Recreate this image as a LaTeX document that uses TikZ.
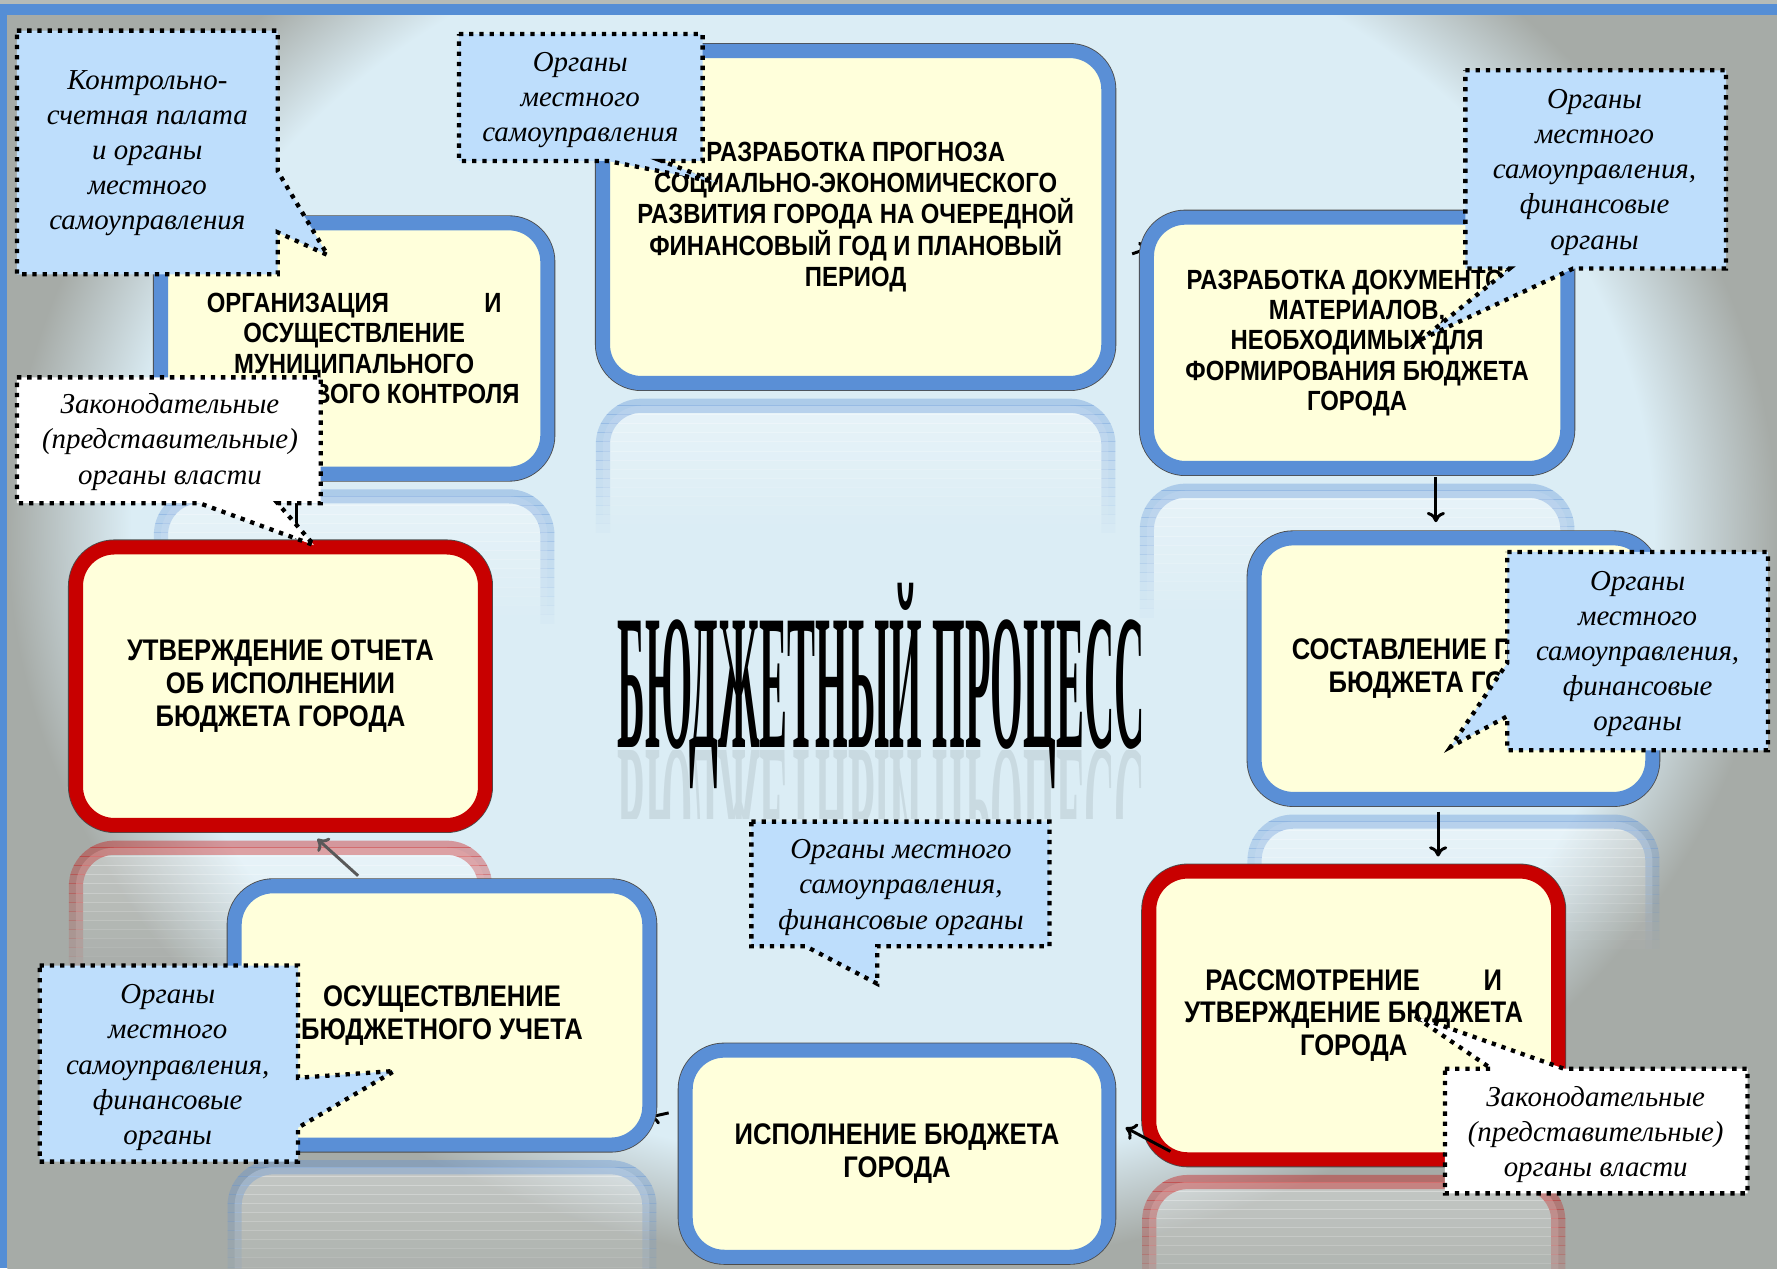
\documentclass[tikz,border=0pt]{standalone}
\usepackage{fontspec}
\usepackage{graphicx}
\usepackage{tikz}
\usetikzlibrary{positioning, arrows, arrows.meta}
\newfontfamily\stagefont[FakeStretch=0.86]{Liberation Sans}
\newfontfamily\notefont{Liberation Serif}
\newfontfamily\titlefont{Liberation Serif}

\definecolor{bgin}{HTML}{DBEDF5}
\definecolor{bgout}{HTML}{A6ABA7}
\definecolor{framegray}{HTML}{B5BBB7}
\definecolor{frameblue}{HTML}{558ED5}
\definecolor{stagefill}{HTML}{FFFFDB}
\definecolor{stageblue}{HTML}{5A8FD6}
\definecolor{stagered}{HTML}{C80000}
\definecolor{noteblue}{HTML}{BEDEFC}

\pgfdeclareradialshading{backdrop}{\pgfpoint{0bp}{0bp}}{color(0bp)=(bgin); color(21.5bp)=(bgin); color(25bp)=(bgout); color(40bp)=(bgout)}

\begin{document}
\begin{tikzpicture}[x=1pt, y=-1pt,
  stage/.style={draw=#1, line width=12.5pt, fill=stagefill, rounded corners=34pt,
    preaction={draw=black!70, line width=14pt}, inner sep=0pt, align=center,
    font=\stagefont\bfseries\fontsize{26.3}{29}\selectfont},
  narrow/.style={font=\stagefont\bfseries\fontsize{24.5}{26.75}\selectfont},
  wh/.style 2 args={minimum width=#1-14, minimum height=#2-14},
  glass/.style={draw=#1, line width=12.5pt, fill=white, rounded corners=34pt},
  note/.style={fill=#1, draw=black, line width=3.8pt, dash pattern=on 3.8pt off 5.2pt},
  notetext/.style={align=center, inner sep=0pt, font=\notefont\itshape\fontsize{25.5}{31}\selectfont},
  link/.style={-{To[length=9pt,width=16pt]}, line width=2.6pt, black},
]
\useasboundingbox (0,0) rectangle (1568,1119);
\clip (0,0) rectangle (1568,1119);

% Slide background and frame
\shade[shading=backdrop] (6.5,-180) rectangle (1568,1119);
\fill[framegray] (0,0) rectangle (1568,3.5);
\fill[frameblue] (0,3.5) rectangle (1568,13);
\fill[frameblue] (0,3.5) rectangle (6.5,1119);

% Reflections under the stages, fading out downwards
\foreach \rim/\xa/\ya/\xb/\yb in {stageblue/532/358/978/645, stageblue/1012/433/1383/648,
    stageblue/1107/725/1458/950, stagered/1014/1043/1375/1292, stageblue/207/1030/573/1259,
    stagered/67/748/428/994, stageblue/142/438/483/653}{
  \foreach \k [evaluate=\k as \op using 0.36-0.024*\k] in {0,...,14}{
    \begin{scope}
      \clip (\xa-12,\ya-8+8*\k) rectangle (\xb+12,\ya+8*\k);
      \path[glass=\rim, opacity=\op] (\xa,\ya) rectangle (\xb,\yb);
    \end{scope}
  }
}

% Title and its reflection
\node[inner sep=0pt, anchor=base] (title) at (777.5,660)
  {\resizebox{465pt}{145pt}{\titlefont\bfseries БЮДЖЕТНЫЙ ПРОЦЕСС}};
\begin{scope}
  \clip (540,662) rectangle (1015,722);
  \node[inner sep=0pt, anchor=base, opacity=0.08] (titleglass) at (777.5,662)
    {\scalebox{1}[-1]{\resizebox{465pt}{145pt}{\titlefont\bfseries БЮДЖЕТНЫЙ ПРОЦЕСС}}};
\end{scope}

% hidden ends of connectors (under the stages)
\coordinate (abtail) at (999,224);
\coordinate (abhead) at (1015,218.5);
\draw[link] (abtail) -- (abhead);
\coordinate (eftail) at (590,982);
\coordinate (efhead) at (572,986);
\draw[link] (eftail) -- (efhead);
\coordinate (ghtail) at (262,476);
\coordinate (ghhead) at (262,425);
\draw[link] (ghtail) -- (ghhead);

% Stages of the cycle
\node[stage=stageblue, wh={460}{307}, narrow] (forecast) at (755,191.5)
  {РАЗРАБОТКА ПРОГНОЗА\\СОЦИАЛЬНО-ЭКОНОМИЧЕСКОГО\\РАЗВИТИЯ ГОРОДА НА ОЧЕРЕДНОЙ\\ФИНАНСОВЫЙ ГОД И ПЛАНОВЫЙ\\ПЕРИОД};
\node[stage=stageblue, wh={385}{235}, narrow] (docs) at (1197.5,302.5)
  {РАЗРАБОТКА ДОКУМЕНТОВ,\\МАТЕРИАЛОВ,\\НЕОБХОДИМЫХ ДЛЯ\\ФОРМИРОВАНИЯ БЮДЖЕТА\\ГОРОДА};
\node[stage=stageblue, wh={365}{244}] (draft) at (1282.5,590)
  {СОСТАВЛЕНИЕ ПРОЕКТА\\БЮДЖЕТА ГОРОДА};
\node[stage=stagered, wh={375}{268}] (approve) at (1194.5,896)
  {\makebox[262pt]{РАССМОТРЕНИЕ\hfill И}\\УТВЕРЖДЕНИЕ БЮДЖЕТА\\ГОРОДА};
\node[stage=stageblue, wh={387}{196}] (execute) at (791.5,1018)
  {ИСПОЛНЕНИЕ БЮДЖЕТА\\ГОРОДА};
\node[stage=stageblue, wh={380}{242}] (account) at (390,896)
  {ОСУЩЕСТВЛЕНИЕ\\БЮДЖЕТНОГО УЧЕТА};
\node[stage=stagered, wh={375}{259}] (report) at (247.5,605.5)
  {УТВЕРЖДЕНИЕ ОТЧЕТА\\ОБ ИСПОЛНЕНИИ\\БЮДЖЕТА ГОРОДА};
\node[stage=stageblue, wh={355}{235}, narrow] (control) at (312.5,307.5)
  {\makebox[260pt]{ОРГАНИЗАЦИЯ\hfill И}\\ОСУЩЕСТВЛЕНИЕ\\МУНИЦИПАЛЬНОГО\\ФИНАНСОВОГО КОНТРОЛЯ};

% Connectors between the stages
\draw[link, shorten <=2pt, shorten >=8pt] ([xshift=69.5pt]docs.south) -- ([xshift=-15.5pt]draft.north);
\draw[link, shorten <=5pt, shorten >=7pt] ([xshift=-13.5pt]draft.south) -- ([xshift=74.5pt]approve.north);
\draw[link] ([xshift=25pt,yshift=-120pt]approve.west) -- ([xshift=9pt,yshift=23pt]execute.east);
\draw[link, black!65] ([xshift=-74pt,yshift=3pt]account.north) -- ([xshift=32.5pt,yshift=-6pt]report.south);

% Callouts: who is responsible
\path[note=noteblue] (15,27) -- (245,27) -- (245,151) -- (289,225) -- (245,205) -- (245,242) -- (15,242) -- cycle;
\node[notetext] (noteControl) at (130,135) {Контрольно-\\счетная палата\\и органы\\местного\\самоуправления};

\path[note=noteblue] (405,30) -- (620,30) -- (620,142) -- (584,142) -- (633,161) -- (536,142) -- (405,142) -- cycle;
\node[notetext] (noteForecast) at (512,88) {Органы\\местного\\самоуправления};

\path[note=noteblue] (1293,62) -- (1523,62) -- (1523,237) -- (1388,237) -- (1255,299) -- (1332,237) -- (1293,237) -- cycle;
\node[notetext] (noteDocs) at (1407,152) {Органы\\местного\\самоуправления,\\финансовые\\органы};

\path[note=noteblue] (1330,487) -- (1560,487) -- (1560,662) -- (1330,662) -- (1330,632) -- (1280,659) -- (1330,585) -- cycle;
\node[notetext] (noteDraft) at (1445,577) {Органы\\местного\\самоуправления,\\финансовые\\органы};

\path[note=noteblue] (663,725) -- (926,725) -- (926,835) -- (774,835) -- (774,868) -- (711,835) -- (663,835) -- cycle;
\node[notetext] (noteExec) at (795,783) {Органы местного\\самоуправления,\\финансовые органы};

\path[note=noteblue] (35,852) -- (263,852) -- (263,951) -- (348,945) -- (263,995) -- (263,1025) -- (35,1025) -- cycle;
\node[notetext] (noteAccount) at (148,942) {Органы\\местного\\самоуправления,\\финансовые\\органы};

\path[note=white] (15,333) -- (283,333) -- (283,444) -- (245,444) -- (277,481) -- (176,444) -- (15,444) -- cycle;
\node[notetext] (noteReport) at (150,390) {Законодательные\\(представительные)\\органы власти};

\path[note=white] (1275,943) -- (1316,943) -- (1247,896) -- (1380,943) -- (1542,943) -- (1542,1053) -- (1275,1053) -- cycle;
\node[notetext] (noteApprove) at (1408,1001) {Законодательные\\(представительные)\\органы власти};
\end{tikzpicture}
\end{document}
